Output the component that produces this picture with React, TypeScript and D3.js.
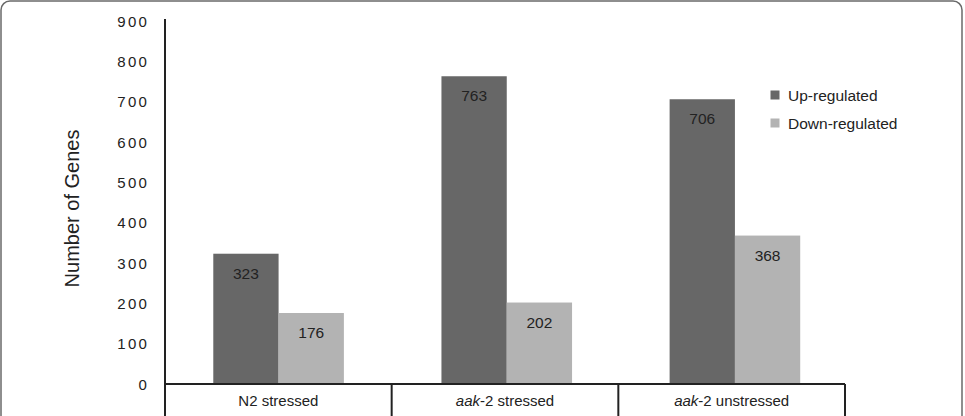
import React from "react";
import * as d3 from "d3";

const categories = ["N2 stressed", "aak-2 stressed", "aak-2 unstressed"];
const italicPrefix = ["", "aak", "aak"];
const restLabel = ["N2 stressed", "-2 stressed", "-2 unstressed"];
const seriesNames = ["Up-regulated", "Down-regulated"];
const upValues = [323, 763, 706];
const downValues = [176, 202, 368];
const yTicks = [0, 100, 200, 300, 400, 500, 600, 700, 800, 900];
const colors = ["#676767", "#b3b3b3"];

const W = 965;
const H = 416;
const left = 165;
const right = 845;
const y0 = 384;
const yTop = 21;

export default function App() {
  const x = d3.scaleBand<string>().domain(categories).range([left, right]).paddingInner(0).paddingOuter(0);
  const xBars = d3.scaleBand<string>().domain(categories).range([164.5, 849]).paddingInner(0).paddingOuter(0);
  const y = d3.scaleLinear().domain([0, 900]).range([y0, yTop]);
  const barW = 65.3;
  const series = [upValues, downValues];
  const font = "Liberation Sans, Arial, sans-serif";
  return (
    <svg width={W} height={H} style={{ position: "absolute", left: 0, top: 0 }} fontFamily={font}>
      <rect x={0} y={0} width={W} height={H} fill="#fff" />
      <rect x={1} y={1} width={961} height={H + 20} rx={9} ry={9} fill="#fff" stroke="#6a6a6a" strokeWidth={1.5} />
      {categories.map((c, i) => {
        const cx = (xBars(c) as number) + xBars.bandwidth() / 2;
        return series.map((vals, s) => {
          const bx = cx - barW + s * barW;
          const v = vals[i];
          return (
            <g key={c + s}>
              <rect x={bx} y={y(v)} width={barW} height={y0 - y(v)} fill={colors[s]} />
              <text x={bx + barW / 2} y={y(v) + 25} textAnchor="middle" fontSize={15.5} fill="#222">{v}</text>
            </g>
          );
        });
      })}
      <line x1={left} x2={left} y1={yTop - 2} y2={H} stroke="#222" strokeWidth={2} />
      {yTicks.map((t) => (
        <text key={t} x={149} y={y(t) + 5.5} textAnchor="end" fontSize={15} fill="#222" letterSpacing={2.2}>{t}</text>
      ))}
      <text transform={`translate(79,${(y0 + yTop) / 2 + 6}) rotate(-90)`} textAnchor="middle" fontSize={20} fill="#222">Number of Genes</text>
      <line x1={left} x2={right} y1={y0} y2={y0} stroke="#222" strokeWidth={2} />
      {categories.map((c, i) => (
        <line key={"d" + i} x1={(x(c) as number) + x.bandwidth()} x2={(x(c) as number) + x.bandwidth()} y1={y0} y2={H} stroke="#222" strokeWidth={2} />
      ))}
      {categories.map((c, i) => (
        <text key={"l" + i} x={(x(c) as number) + x.bandwidth() / 2} y={406} textAnchor="middle" fontSize={15} fill="#222">
          {italicPrefix[i] ? <tspan fontStyle="italic">{italicPrefix[i]}</tspan> : null}
          <tspan>{restLabel[i]}</tspan>
        </text>
      ))}
      {seriesNames.map((n, s) => (
        <g key={n}>
          <rect x={770.5} y={90.5 + s * 28} width={9} height={9} fill={colors[s]} />
          <text x={788} y={100.5 + s * 28} fontSize={15.5} fill="#222">{n}</text>
        </g>
      ))}
    </svg>
  );
}
